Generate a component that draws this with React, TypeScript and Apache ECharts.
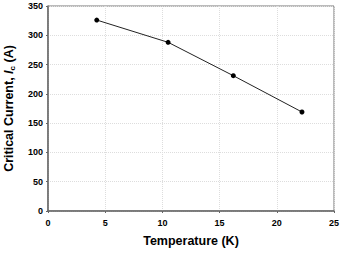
import React, { useEffect, useRef } from "react";
import * as echarts from "echarts";

const temperature = [4.26, 10.5, 16.2, 22.2];
const criticalCurrent = [326, 288, 231, 169];
const xTicks = [0, 5, 10, 15, 20, 25];
const yTicks = [0, 50, 100, 150, 200, 250, 300, 350];

export default function App() {
  const ref = useRef<HTMLDivElement>(null);
  useEffect(() => {
    if (!ref.current) return;
    const chart = echarts.init(ref.current, null, { renderer: "svg" });
    const font = "'Liberation Sans', Arial, sans-serif";
    chart.setOption({
      animation: false,
      backgroundColor: "#ffffff",
      grid: {
        left: 48, right: 8, top: 6, bottom: 43,
        outerBoundsMode: "none",
        containLabel: false,
        show: true, borderColor: "#777", borderWidth: 1,
      },
      xAxis: {
        type: "value",
        min: xTicks[0],
        max: xTicks[xTicks.length - 1],
        interval: 5,
        name: "Temperature (K)",
        nameLocation: "middle",
        nameGap: 23,
        nameTextStyle: { fontFamily: font, fontWeight: "bold", fontSize: 12.5, color: "#000" },
        axisLine: { lineStyle: { color: "#666", width: 1.5 } },
        axisTick: { show: true, length: 2, lineStyle: { color: "#666" } },
        axisLabel: { fontFamily: font, fontWeight: "bold", fontSize: 9, color: "#000", margin: 7 },
        splitLine: { show: true, lineStyle: { color: "#ddd", type: [1, 1] } },
      },
      yAxis: {
        type: "value",
        min: yTicks[0],
        max: yTicks[yTicks.length - 1],
        interval: 50,
        name: "{b|Critical Current, }{i|I}{s|c}{b| (A)}",
        nameLocation: "middle",
        nameGap: 32,
        nameTextStyle: {
          fontFamily: font,
          fontWeight: "bold",
          fontSize: 12.5,
          color: "#000",
          rich: {
            b: { fontFamily: font, fontWeight: "bold", fontSize: 12.5, color: "#000" },
            i: { fontFamily: font, fontWeight: "bold", fontStyle: "italic", fontSize: 12.5, color: "#000" },
            s: { fontFamily: font, fontWeight: "bold", fontSize: 8, color: "#000", verticalAlign: "bottom", padding: [6, 0, 0, 0] },
          },
        },
        axisLine: { lineStyle: { color: "#666", width: 1.5 } },
        axisTick: { show: true, length: 2, lineStyle: { color: "#666" } },
        axisLabel: { fontFamily: font, fontWeight: "bold", fontSize: 9, color: "#000", margin: 5 },
        splitLine: { show: true, lineStyle: { color: "#ddd", type: [1, 1] } },
      },
      series: [
        {
          type: "line",
          data: temperature.map((t, i) => [t, criticalCurrent[i]]),
          symbol: "circle",
          symbolSize: 5,
          itemStyle: { color: "#000" },
          lineStyle: { color: "#222", width: 1 },
        },
      ],
    });
    return () => chart.dispose();
  }, []);
  return <div ref={ref} style={{ width: 342, height: 254, position: "absolute", left: 0, top: 0 }} />;
}
